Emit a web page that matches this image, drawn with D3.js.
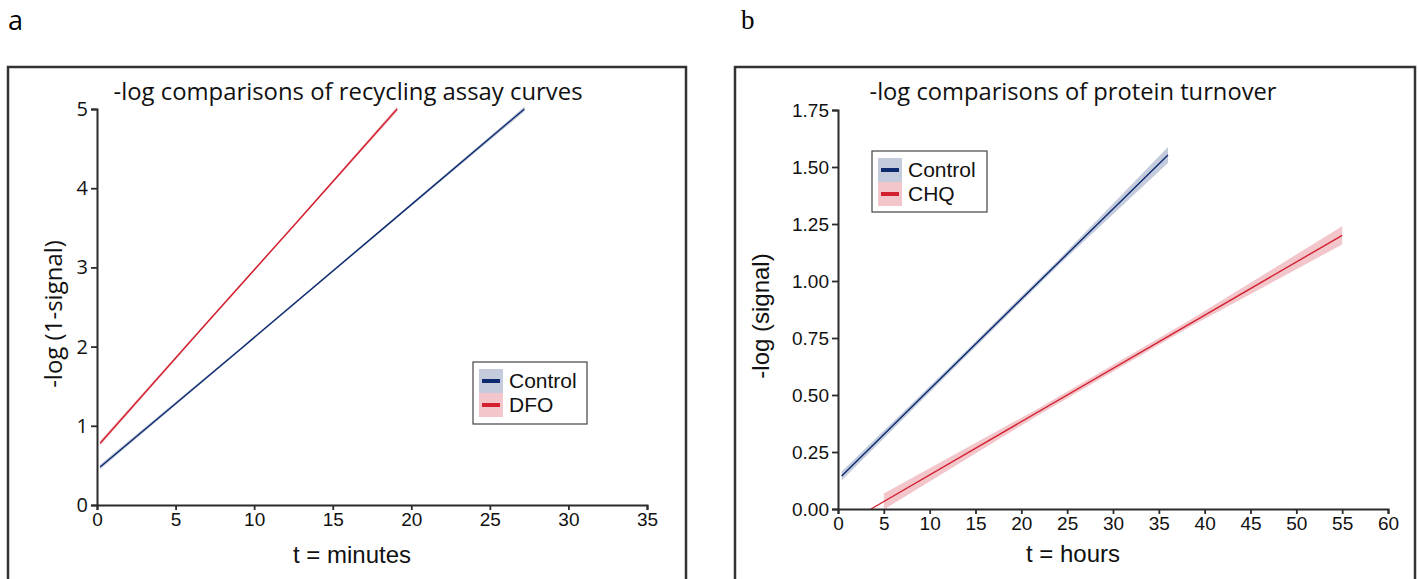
<!DOCTYPE html>
<html><head><meta charset="utf-8">
<script src="https://cdn.jsdelivr.net/npm/d3@7"></script>
<style>body{margin:0;background:#fff}svg{display:block}</style>
</head><body>
<svg id="c" width="1418" height="579"></svg>
<script>
// ---- Panel a data ----
const titleA = "-log comparisons of recycling assay curves";
const xTicksA = [0,5,10,15,20,25,30,35];
const yTicksA = [0,1,2,3,4,5];
const controlA_t  = [0.2, 9.2, 18.2, 27.2];
const controlA_v  = [0.48, 1.98, 3.49, 5.00];
const controlA_hw = [0.03, 0.015, 0.015, 0.03];
const dfoA_t  = [0.2, 6.5, 12.8, 19.1];
const dfoA_v  = [0.78, 2.19, 3.59, 5.00];
const dfoA_hw = [0.03, 0.015, 0.015, 0.03];
const legendA = ["Control","DFO"];

// ---- Panel b data ----
const titleB = "-log comparisons of protein turnover";
const xTicksB = [0,5,10,15,20,25,30,35,40,45,50,55,60];
const yTicksB = [0,0.25,0.5,0.75,1.0,1.25,1.5,1.75];
const controlB_t  = [0.4, 12.3, 24.2, 36.0];
const controlB_v  = [0.145, 0.616, 1.087, 1.553];
const controlB_hw = [0.02, 0.012, 0.012, 0.035];
const chqB_line_t = [3.6, 55];
const chqB_line_v = [0.0, 1.20];
const chqB_t  = [5, 21.7, 38.3, 55];
const chqB_v  = [0.033, 0.423, 0.812, 1.20];
const chqB_hw = [0.035, 0.015, 0.015, 0.04];
const legendB = ["Control","CHQ"];

const NAVY = "#0d2a6e", RED = "#d3202f";
const NAVY_BAND = "#c3cbdc", RED_BAND = "#f2c6cb";
const AX = "#2b2b2b";
const svg = d3.select("#c");

// panel letters
svg.append("text").attr("x",8).attr("y",30).attr("font-family","Open Sans").attr("font-size",27).text("a");
svg.append("text").attr("x",741).attr("y",29).attr("font-family","Liberation Serif").attr("font-size",27).text("b");

// frames
svg.append("rect").attr("x",8).attr("y",67).attr("width",678).attr("height",560).attr("fill","none").attr("stroke","#333").attr("stroke-width",2.5);
svg.append("rect").attr("x",735).attr("y",67).attr("width",680).attr("height",560).attr("fill","none").attr("stroke","#333").attr("stroke-width",2.5);

function panel(o){
  const x = d3.scaleLinear().domain(o.xd).range(o.xr);
  const y = d3.scaleLinear().domain(o.yd).range(o.yr);
  const g = svg.append("g");
  o.series.forEach(s=>{
    const band = d3.area().x((d,i)=>x(s.bt[i])).y0((d,i)=>y(s.bv[i]-s.hw[i])).y1((d,i)=>y(s.bv[i]+s.hw[i]));
    g.append("path").attr("d",band(s.bt)).attr("fill",s.band).attr("stroke","none");
    const line = d3.line().x((d,i)=>x(s.lt[i])).y((d,i)=>y(s.lv[i]));
    g.append("path").attr("d",line(s.lt)).attr("fill","none").attr("stroke",s.color).attr("stroke-width",1.4);
  });
  const xa = g.append("g").attr("transform",`translate(0,${o.yr[0]})`)
    .call(d3.axisBottom(x).tickValues(o.xt).tickSize(5).tickPadding(3).tickFormat(d3.format("d")));
  const ya = g.append("g").attr("transform",`translate(${o.xr[0]},0)`)
    .call(d3.axisLeft(y).tickValues(o.yt).tickSize(6).tickPadding(3).tickFormat(o.yf));
  [xa,ya].forEach(a=>{
    a.select(".domain").attr("stroke",AX).attr("stroke-width",2);
    a.selectAll(".tick line").attr("stroke",AX).attr("stroke-width",1.8);
  });
  xa.selectAll(".tick text").attr("font-family","Liberation Sans").attr("font-size",19).attr("fill","#111");
  ya.selectAll(".tick text").attr("font-family",o.yTickFont).attr("font-size",o.yTickSize).attr("fill","#111");
  g.append("text").attr("x",o.titleX).attr("y",o.titleY).attr("text-anchor","middle")
    .attr("font-family","Open Sans").attr("font-size",23).attr("fill","#111")
    .attr("textLength",o.titleW).attr("lengthAdjust","spacingAndGlyphs").text(o.title);
  g.append("text").attr("x",o.xlX).attr("y",o.xlY).attr("text-anchor","middle")
    .attr("font-family","Liberation Sans").attr("font-size",24).attr("fill","#111").text(o.xlab);
  g.append("text").attr("transform",`translate(${o.ylX},${o.ylY}) rotate(-90)`).attr("text-anchor","middle")
    .attr("font-family",o.ylFont).attr("font-size",o.ylSize).attr("fill","#111").text(o.ylab);
  const L = o.leg;
  g.append("rect").attr("x",L.x).attr("y",L.y).attr("width",L.w).attr("height",L.h)
    .attr("fill","#fff").attr("stroke","#444").attr("stroke-width",1.2);
  o.series.forEach((s,i)=>{
    const py = L.y+7+i*24;
    g.append("rect").attr("x",L.x+6).attr("y",py).attr("width",24).attr("height",24).attr("fill",s.band);
    g.append("line").attr("x1",L.x+9).attr("x2",L.x+27).attr("y1",py+12).attr("y2",py+12)
      .attr("stroke",s.color).attr("stroke-width",4);
    g.append("text").attr("x",L.x+36).attr("y",py+19).attr("font-family","Liberation Sans")
      .attr("font-size",21).attr("fill","#111").text(o.legend[i]);
  });
}

panel({
  xd:[0,35], xr:[97,647], yd:[0,5], yr:[505,109],
  xt:xTicksA, yt:yTicksA, yf:d3.format("d"), yTickFont:"Open Sans", yTickSize:20,
  title:titleA, titleX:348, titleY:100, titleW:469,
  xlab:"t = minutes", xlX:352, xlY:563,
  ylab:"-log (1-signal)", ylX:62, ylY:314, ylFont:"Open Sans", ylSize:24,
  legend:legendA, leg:{x:473,y:362,w:114,h:62},
  series:[
    {lt:controlA_t, lv:controlA_v, bt:controlA_t, bv:controlA_v, hw:controlA_hw, color:NAVY, band:NAVY_BAND},
    {lt:dfoA_t, lv:dfoA_v, bt:dfoA_t, bv:dfoA_v, hw:dfoA_hw, color:RED, band:RED_BAND}
  ]
});

panel({
  xd:[0,60], xr:[838,1388], yd:[0,1.75], yr:[509,110],
  xt:xTicksB, yt:yTicksB, yf:d3.format(".2f"), yTickFont:"Liberation Sans", yTickSize:19,
  title:titleB, titleX:1073, titleY:100, titleW:407,
  xlab:"t = hours", xlX:1073, xlY:562,
  ylab:"-log (signal)", ylX:769, ylY:316, ylFont:"Liberation Sans", ylSize:24,
  legend:legendB, leg:{x:872,y:151,w:115,h:61},
  series:[
    {lt:controlB_t, lv:controlB_v, bt:controlB_t, bv:controlB_v, hw:controlB_hw, color:NAVY, band:NAVY_BAND},
    {lt:chqB_line_t, lv:chqB_line_v, bt:chqB_t, bv:chqB_v, hw:chqB_hw, color:RED, band:RED_BAND}
  ]
});
</script>
</body></html>
